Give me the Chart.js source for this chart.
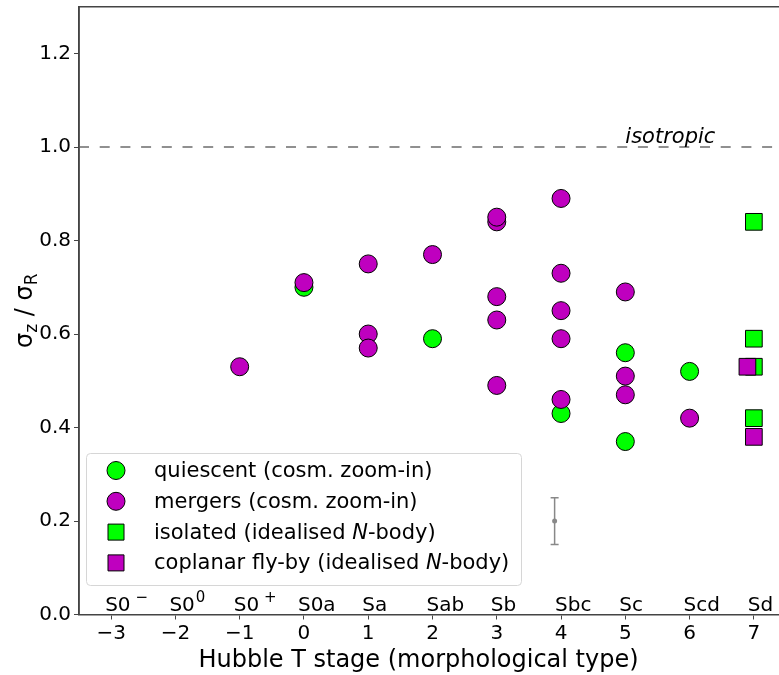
<!DOCTYPE html>
<html>
<head>
<meta charset="utf-8">
<script src="https://cdn.jsdelivr.net/npm/chart.js@4/dist/chart.umd.min.js"></script>
<style>
  html, body { margin: 0; padding: 0; background: #fff; }
  #wrap { width: 779px; height: 675px; overflow: hidden; position: relative; }
  /* холст чуть больше окна: ось X в оригинале обрезана справа */
  canvas { display: block; margin-top: -6px; }
</style>
</head>
<body>
<div id="wrap"><canvas id="c" width="800" height="681"></canvas></div>
<script>
// Данные (σz/σR по типу Хаббла)
const quiescentX = [0, 2, 4, 5, 5, 6];
const quiescentY = [0.70, 0.59, 0.43, 0.56, 0.37, 0.52];
const mergersX = [-1, 0, 1, 1, 2, 3, 3, 3, 3, 3, 4, 4, 4, 4, 4, 5, 5, 5, 6];
const mergersY = [0.53, 0.71, 0.75, 0.60, 0.77, 0.84, 0.85, 0.68, 0.63, 0.49, 0.89, 0.73, 0.65, 0.59, 0.46, 0.69, 0.51, 0.47, 0.42];
const mergersExtraX = [1];
const mergersExtraY = [0.57];
const isolatedX = [7, 7, 7, 7];
const isolatedY = [0.84, 0.59, 0.53, 0.42];
const flybyX = [6.9, 7];
const flybyY = [0.53, 0.38];

const isotropicLevel = 1.0;
const isotropicLabel = "isotropic";
const isotropicLabelX = 5.0;

// типичная ошибка (серая метка)
const errX = [3.9];
const errY = [0.2];
const errSize = [0.05];

const xTicks = [-3, -2, -1, 0, 1, 2, 3, 4, 5, 6, 7];
const yTicks = [0.0, 0.2, 0.4, 0.6, 0.8, 1.0, 1.2];
const typeBase = ["S0", "S0", "S0", "S0a", "Sa", "Sab", "Sb", "Sbc", "Sc", "Scd", "Sd"];
const typeSup = ["\u2212", "0", "+", "", "", "", "", "", "", "", ""];
const xTitle = "Hubble T stage (morphological type)";

const legendItems = [
  { label: ["quiescent (cosm. zoom-in)"], shape: "circle", color: "#00ff00" },
  { label: ["mergers (cosm. zoom-in)"], shape: "circle", color: "#bf00bf" },
  { label: ["isolated (idealised ", "N", "-body)"], shape: "square", color: "#00ff00" },
  { label: ["coplanar fly-by (idealised ", "N", "-body)"], shape: "square", color: "#bf00bf" },
];

const FONT = "'DejaVu Sans', sans-serif";
const GREEN = "#00ff00";
const MAGENTA = "#bf00bf";
const SPINE = "#444";
const SHIFT = 6; // сдвиг холста вверх (см. margin-top)

const pts = (xs, ys) => xs.map((x, i) => ({ x, y: ys[i] }));

function textRuns(ctx, runs, x, y, size) {
  // чередование прямого и курсивного (нечётные куски — курсив)
  let cx = x;
  runs.forEach((t, i) => {
    ctx.font = (i % 2 ? "italic " : "") + size + "px " + FONT;
    ctx.fillText(t, cx, y);
    cx += ctx.measureText(t).width;
  });
}

const extras = {
  id: "extras",
  beforeDatasetsDraw(chart) {
    const { ctx, scales: { x, y } } = chart;
    // ошибка
    ctx.save();
    ctx.strokeStyle = "#888";
    ctx.fillStyle = "#888";
    ctx.lineWidth = 1.5;
    errX.forEach((ex, i) => {
      const px = x.getPixelForValue(ex);
      const top = y.getPixelForValue(errY[i] + errSize[i]);
      const bot = y.getPixelForValue(errY[i] - errSize[i]);
      ctx.beginPath();
      ctx.moveTo(px, top); ctx.lineTo(px, bot);
      ctx.moveTo(px - 4, top); ctx.lineTo(px + 4, top);
      ctx.moveTo(px - 4, bot); ctx.lineTo(px + 4, bot);
      ctx.stroke();
      ctx.beginPath();
      ctx.arc(px, y.getPixelForValue(errY[i]), 2.5, 0, Math.PI * 2);
      ctx.fill();
    });
    ctx.restore();
  },
  afterDraw(chart) {
    const { ctx, chartArea: a, scales: { x, y } } = chart;
    ctx.save();
    // рамка: верх и лево (низ рисует ось)
    ctx.strokeStyle = SPINE;
    ctx.lineWidth = 1.5;
    ctx.beginPath();
    ctx.moveTo(a.left, a.bottom); ctx.lineTo(a.left, a.top);
    ctx.lineTo(a.right, a.top);
    ctx.stroke();

    // подпись изотропии
    ctx.fillStyle = "#000";
    ctx.textBaseline = "alphabetic";
    ctx.textAlign = "left";
    ctx.font = "italic 21px " + FONT;
    ctx.fillText(isotropicLabel, x.getPixelForValue(isotropicLabelX), y.getPixelForValue(isotropicLevel) - 4);

    // морфологические типы над осью
    const base = a.bottom - 4;
    xTicks.forEach((v, i) => {
      const px = x.getPixelForValue(v) - 6;
      ctx.font = "20px " + FONT;
      ctx.fillText(typeBase[i], px, base);
      if (typeSup[i]) {
        const w = ctx.measureText(typeBase[i]).width;
        ctx.font = "15px " + FONT;
        ctx.fillText(typeSup[i], px + w + (typeSup[i] === "0" ? 1 : 5), base - 9);
      }
    });

    // подпись оси X (в оригинале сдвинута левее центра оси)
    ctx.font = "24px " + FONT;
    ctx.textAlign = "center";
    ctx.fillText(xTitle, 418.5, 667 + SHIFT);
    ctx.textAlign = "left";

    // заголовок оси Y: σz / σR
    ctx.translate(32, (a.top + a.bottom) / 2);
    ctx.rotate(-Math.PI / 2);
    const parts = [["\u03c3", "z"], [" / ", ""], ["\u03c3", "R"]];
    let total = 0;
    parts.forEach(([m, s]) => {
      ctx.font = "24px " + FONT; total += ctx.measureText(m).width;
      if (s) { ctx.font = "17px " + FONT; total += ctx.measureText(s).width; }
    });
    let cx = -total / 2;
    parts.forEach(([m, s]) => {
      ctx.font = "24px " + FONT; ctx.fillText(m, cx, 0); cx += ctx.measureText(m).width;
      if (s) { ctx.font = "17px " + FONT; ctx.fillText(s, cx, 5); cx += ctx.measureText(s).width; }
    });
    ctx.setTransform(1, 0, 0, 1, 0, 0);

    // легенда
    const L = { left: 86, top: 453 + SHIFT, w: 435, h: 132 };
    ctx.fillStyle = "rgba(255,255,255,0.8)";
    ctx.strokeStyle = "#d6d6d6";
    ctx.lineWidth = 1;
    ctx.beginPath();
    ctx.roundRect(L.left + 0.5, L.top + 0.5, L.w, L.h, 4);
    ctx.fill();
    ctx.stroke();
    legendItems.forEach((it, i) => {
      const cy = L.top + 17.5 + i * 30.8;
      const mx = 116;
      ctx.fillStyle = it.color;
      ctx.strokeStyle = "#000";
      ctx.lineWidth = 1;
      ctx.beginPath();
      if (it.shape === "circle") ctx.arc(mx, cy, 9, 0, Math.PI * 2);
      else ctx.rect(mx - 8, cy - 8, 16, 16);
      ctx.fill();
      ctx.stroke();
      ctx.fillStyle = "#000";
      ctx.textBaseline = "middle";
      textRuns(ctx, it.label, 154, cy + 1, 21);
    });
    ctx.restore();
  },
};

const scatterSet = (data, color, style, order) => ({
  type: "scatter",
  data,
  order,
  pointStyle: style,
  pointRadius: style === "rect" ? 11.8 : 9,
  pointHoverRadius: style === "rect" ? 11.8 : 9,
  backgroundColor: color,
  borderColor: "#000",
  borderWidth: 1,
  showLine: false,
});

new Chart(document.getElementById("c"), {
  data: {
    datasets: [
      scatterSet(pts(quiescentX, quiescentY), GREEN, "circle", 4),
      scatterSet(pts(mergersX, mergersY).concat(pts(mergersExtraX, mergersExtraY)), MAGENTA, "circle", 3),
      scatterSet(pts(isolatedX, isolatedY), GREEN, "rect", 2),
      scatterSet(pts(flybyX, flybyY), MAGENTA, "rect", 1),
      {
        type: "line",
        order: 5,
        data: [{ x: -3.5, y: isotropicLevel }, { x: 7.5, y: isotropicLevel }],
        borderColor: "#909090",
        borderWidth: 2,
        borderDash: [10, 10.7],
        pointRadius: 0,
        fill: false,
      },
    ],
  },
  options: {
    responsive: false,
    animation: false,
    events: [],
    layout: { padding: { top: 0, right: 14, left: 0, bottom: 0 } },
    plugins: { legend: { display: false }, tooltip: { enabled: false } },
    scales: {
      x: {
        type: "linear",
        min: -3.5,
        max: 7.5,
        afterBuildTicks: (ax) => { ax.ticks = xTicks.map((v) => ({ value: v })); },
        afterFit: (ax) => { ax.height = 60.5; ax.paddingLeft = 0; ax.paddingRight = 0; },
        ticks: {
          color: "#000",
          font: { family: FONT, size: 20 },
          padding: 2,
          maxRotation: 0,
          autoSkip: false,
          callback: (v) => String(v).replace("-", "\u2212"),
        },
        grid: { drawOnChartArea: false, drawTicks: true, tickLength: 5, tickColor: SPINE, lineWidth: 1 },
        border: { display: true, color: SPINE, width: 1.5 },
      },
      y: {
        type: "linear",
        min: 0,
        max: 1.3,
        afterBuildTicks: (ax) => { ax.ticks = yTicks.map((v) => ({ value: v })); },
        afterFit: (ax) => { ax.width = 79; ax.paddingTop = 0; ax.paddingBottom = 0; },
        ticks: {
          color: "#000",
          font: { family: FONT, size: 20 },
          padding: 3,
          callback: (v) => v.toFixed(1),
        },
        grid: { drawOnChartArea: false, drawTicks: true, tickLength: 5, tickColor: SPINE, lineWidth: 1 },
        border: { display: true, color: SPINE, width: 1.5 },
      },
    },
  },
  plugins: [extras],
});
</script>
</body>
</html>
